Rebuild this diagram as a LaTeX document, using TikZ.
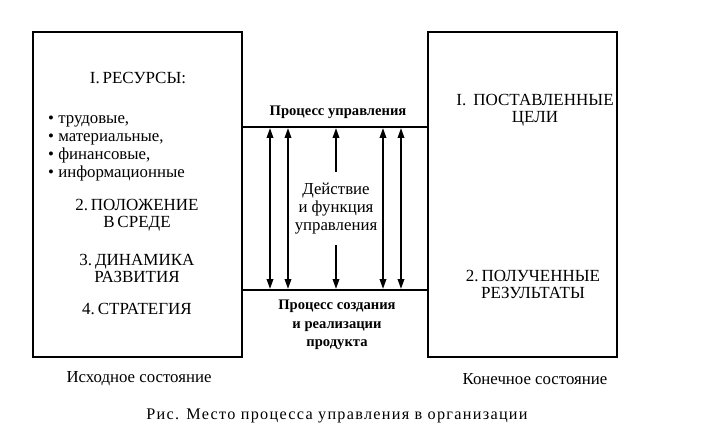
\documentclass[tikz,border=0pt]{standalone}
\usepackage{fontspec}
\setmainfont{Liberation Serif}
\usetikzlibrary{arrows.meta}
\tikzset{
  box/.style={draw, line width=2.4pt, minimum width=#1, minimum height=325pt, inner sep=0pt},
  hline/.style={line width=1.8pt},
  varrow/.style={line width=1.8pt, {Triangle[length=10pt,width=6.5pt]}-{Triangle[length=10pt,width=6.5pt]}},
  sarrow/.style={line width=1.8pt, -{Triangle[length=10pt,width=6.5pt]}},
  caps/.style={font=\fontsize{17}{17.5}\selectfont, align=center, inner sep=0pt},
  small/.style={font=\fontsize{16.8}{18}\selectfont, align=left, inner sep=0pt},
  bold/.style={font=\fontsize{14.6}{18.5}\selectfont\bfseries, align=center, inner sep=0pt},
  mid/.style={font=\fontsize{16.8}{18}\selectfont, align=center, inner sep=0pt},
  lbl/.style={font=\fontsize{16.8}{17}\selectfont, inner sep=0pt},
}
\begin{document}
\begin{tikzpicture}[x=1pt,y=-1pt]
\useasboundingbox (0,0) rectangle (711,435);
% boxes
\node[box=209pt] (L) at (137.5,194.5) {};
\node[box=189pt] (R) at (522.5,194.5) {};
% horizontal lines
\coordinate (tl) at (242,127);
\coordinate (tr) at (428,127);
\coordinate (bl) at (242,290);
\coordinate (br) at (428,290);
\draw[hline] (tl) -- (tr);
\draw[hline] (bl) -- (br);
% vertical double arrows
\foreach \x/\n in {270/a1,288/a2,383/a4,401/a5}{
  \coordinate (\n t) at (\x,128);
  \coordinate (\n b) at (\x,289);
  \draw[varrow] (\n t) -- (\n b);
}
% middle
\node[mid] (D) at (336,209) {Действие\\и функция\\управления};
\coordinate (mt) at (336,128);
\coordinate (mb) at (336,289);
\coordinate (mu) at (336,172);
\coordinate (md) at (336,245);
\draw[sarrow] (mu) -- (mt);
\draw[sarrow] (md) -- (mb);
% bold labels
\node[bold] (PU) at (338,112) {Процесс управления};
\node[bold] (PS) at (337,325) {Процесс создания\\и реализации\\продукта};
% left box texts
\node[caps] (L1) at (138,78) {I.\,РЕСУРСЫ:};
\node[small, anchor=west] (L1b) at (48,148) {• трудовые,\\• материальные,\\• финансовые,\\• информационные};
\node[caps] (L2) at (137,215) {2.\,ПОЛОЖЕНИЕ\\В\,СРЕДЕ};
\node[caps] (L3) at (137,268.5) {3.\,ДИНАМИКА\\РАЗВИТИЯ};
\node[caps] (L4) at (137,309) {4.\,СТРАТЕГИЯ};
% right box texts
\node[caps] (R1) at (535,110) {I.\ \,ПОСТАВЛЕННЫЕ\\ЦЕЛИ};
\node[caps] (R2) at (533,284.5) {2.\,ПОЛУЧЕННЫЕ\\РЕЗУЛЬТАТЫ};
% bottom labels
\node[lbl] (LL) at (139,379) {Исходное состояние};
\node[lbl] (RL) at (535,379) {Конечное состояние};
\node[lbl, font=\fontsize{16.2}{17}\addfontfeature{LetterSpace=8}\selectfont] (CAP) at (337,416) {Рис. Место процесса управления в организации};
\end{tikzpicture}
\end{document}
